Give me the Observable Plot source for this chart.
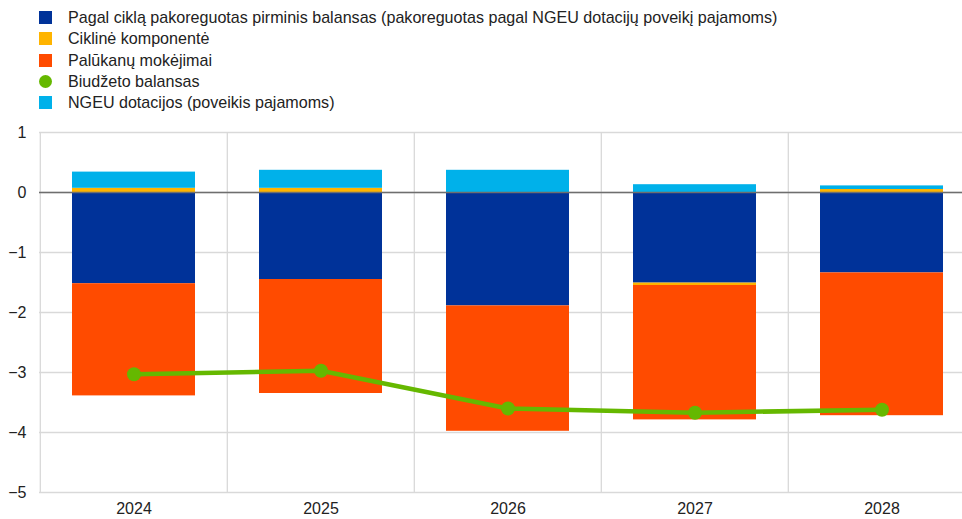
<!DOCTYPE html>
<html>
<head>
<meta charset="utf-8">
<script src="https://cdn.jsdelivr.net/npm/d3@7"></script>
<script src="https://cdn.jsdelivr.net/npm/@observablehq/plot@0.6"></script>
<style>
  html, body { margin: 0; padding: 0; background: #fff; overflow: hidden; width: 962px; height: 519px; }
  body { font-family: "Liberation Sans", Arial, sans-serif; color: #222; }
  #legend { height: 112px; box-sizing: border-box; padding-top: 7px; }
  .row { display: flex; align-items: center; height: 21.3px; font-size: 16.1px; }
  .sw { width: 13px; height: 13px; margin-left: 39px; margin-right: 16px; flex: none; }
  .sw.dot { border-radius: 50%; }
  #chart svg { display: block; overflow: visible; }
</style>
</head>
<body>
<div id="legend"></div>
<div id="chart"></div>
<script>
const years = ["2024", "2025", "2026", "2027", "2028"];
const primaryBalance = [-1.52, -1.45, -1.89, -1.51, -1.34];
const cyclicalComponent = [0.07, 0.07, 0.0, -0.04, 0.05];
const interestPayments = [-1.87, -1.90, -2.09, -2.24, -2.38];
const ngeuGrants = [0.27, 0.30, 0.37, 0.13, 0.06];
const budgetBalance = [-3.03, -2.97, -3.60, -3.67, -3.62];
const yTicks = [1, 0, -1, -2, -3, -4, -5];

const names = {
  primary: "Pagal ciklą pakoreguotas pirminis balansas (pakoreguotas pagal NGEU dotacijų poveikį pajamoms)",
  cyclical: "Ciklinė komponentė",
  interest: "Palūkanų mokėjimai",
  budget: "Biudžeto balansas",
  ngeu: "NGEU dotacijos (poveikis pajamoms)"
};
const colors = {
  primary: "#003299",
  cyclical: "#FFB400",
  interest: "#FF4B00",
  budget: "#65B800",
  ngeu: "#00B1EA"
};

// Legend
const legendOrder = ["primary", "cyclical", "interest", "budget", "ngeu"];
const legend = document.getElementById("legend");
for (const k of legendOrder) {
  const row = document.createElement("div");
  row.className = "row";
  const sw = document.createElement("span");
  sw.className = "sw" + (k === "budget" ? " dot" : "");
  sw.style.background = colors[k];
  const t = document.createElement("span");
  t.textContent = names[k];
  row.appendChild(sw);
  row.appendChild(t);
  legend.appendChild(row);
}

// Stacked data
const stackKeys = ["primary", "cyclical", "interest", "ngeu"];
const stackValues = { primary: primaryBalance, cyclical: cyclicalComponent, interest: interestPayments, ngeu: ngeuGrants };
const table = [];
for (const k of stackKeys) {
  years.forEach((y, i) => table.push({ year: y, series: names[k], value: stackValues[k][i] }));
}
const budgetData = years.map((y, i) => ({ year: y, value: budgetBalance[i] }));

const xLeft = 39, xRight = 976;
const step = (xRight - xLeft) / years.length;
const fmt = d => (d < 0 ? "\u2212" + Math.abs(d) : String(d));

const chart = Plot.plot({
  width: 962,
  height: 407,
  marginTop: 20,
  marginBottom: 27,
  marginLeft: 39,
  marginRight: 0,
  style: { fontFamily: "Liberation Sans, Arial, sans-serif", fontSize: "16px", color: "#222", overflow: "visible" },
  x: { type: "band", domain: years, range: [xLeft, xRight], paddingInner: 0.34, paddingOuter: 0.17, label: null },
  y: { domain: [-5, 1], label: null },
  color: { domain: stackKeys.map(k => names[k]), range: stackKeys.map(k => colors[k]) },
  marks: [
    Plot.ruleY(yTicks, { stroke: "#d9d9d9", strokeWidth: 1.3 }),
    Plot.ruleX(years, { x: d => d, dx: -step / 2, stroke: "#d9d9d9", strokeWidth: 1.3 }),
    Plot.barY(table, { x: "year", y: "value", fill: "series", order: stackKeys.map(k => names[k]) }),
    Plot.ruleY([0], { stroke: "#6e6e6e", strokeWidth: 1.3 }),
    Plot.line(budgetData, { x: "year", y: "value", stroke: colors.budget, strokeWidth: 4.5, curve: "linear" }),
    Plot.dot(budgetData, { x: "year", y: "value", r: 7, fill: colors.budget }),
    Plot.axisY({ ticks: yTicks, tickSize: 0, tickPadding: 13, fontSize: 16, tickFormat: fmt, label: null }),
    Plot.axisX({ tickSize: 0, tickPadding: 10, fontSize: 16, label: null })
  ]
});
document.getElementById("chart").appendChild(chart);
</script>
</body>
</html>
